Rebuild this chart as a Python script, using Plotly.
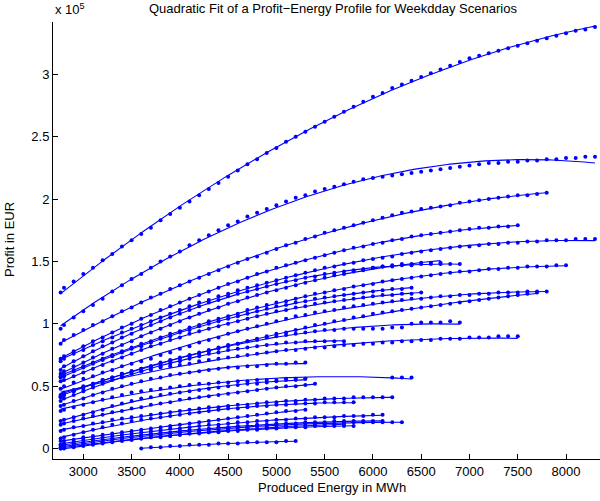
import numpy as np
import plotly.graph_objects as go

# Energy grid (MWh) of the scenario data points
ENERGY_MWH = [2765] + list(range(2800, 8301, 100))

# Profit values in thousand EUR, aligned with ENERGY_MWH (None = no point)
S01 = [125, 129, 134, 140, 145, 151, 156, 162, 167, 172, 177, 183, 188, 193, 198, 203, 208, 213, 218, 223, 228,
       232, 237, 241, 246, 250, 254, 258, 262, 266, 270, 274, 278, 282, 285, 289, 292, 295, 298, 301, 304,
       307, 310, 313, 315, 317, 319, 321, 323, 325, 327, 329, 331, 333, 335, 336, 338]
S02 = [96, 99, 105, 110, 115, 120, 126, 131, 136, 140, 145, 150, 154, 158, 163, 167, 171, 175, 179, 182, 186,
       189, 192, 195, 198, 201, 203, 206, 208, 210, 212, 214, 216, 217, 218, 219, 220, 221, 222, 223, 224,
       225, 226, 227, 228, 229, 229, 230, 230, 231, 231, 232, 232, 233, 233, 234, 234]
S03 = [84, 87, 91, 95, 99, 102, 106, 110, 113, 117, 121, 124, 128, 131, 134, 137, 140, 143, 146, 149, 152,
       154, 157, 160, 163, 165, 168, 170, 173, 175, 177, 179, 181, 183, 185, 187, 189, 190, 192, 193, 194,
       195, 197, 198, 199, 200, 201, 202, 203, 203, 204, 205]
S04 = [72, 74, 78, 82, 86, 89, 93, 97, 100, 104, 107, 111, 114, 117, 120, 123, 126, 129, 132, 134, 137,
       140, 142, 145, 147, 149, 151, 153, 155, 157, 159, 161, 162, 164, 165, 167, 168, 170, 171, 172, 173,
       174, 175, 176, 177, 177, 178, 178, 179]
S05 = [70, 72, 76, 79, 83, 86, 89, 93, 96, 99, 102, 105, 108, 111, 114, 117, 119, 122, 124, 127, 129,
       131, 133, 135, 137, 139, 141, 143, 145, 146, 148, 149, 151, 152, 153, 154, 156, 157, 158, 159, 160,
       161, 162, 162, 163, 164, 164, 165, 165, 166, 166, 167, 167, 167, 168, 168, 168]
S06 = [63, 66, 70, 74, 78, 82, 85, 89, 92, 96, 99, 102, 105, 108, 111, 114, 117, 119, 122, 124, 126,
       128, 130, 132, 134, 135, 137, 138, 140, 141, 142, 143, 144, 145, 146, 146, 147, 147, 148, 148, 148,
       148, 148]
S07 = [60, 62, 66, 69, 73, 76, 80, 83, 86, 90, 93, 96, 99, 102, 105, 108, 111, 113, 116, 118, 121,
       123, 125, 127, 129, 131, 133, 135, 137, 139, 140, 142, 143, 145, 146, 147, 148, 148, 149, 149, 149]
S08 = [58, 60, 63, 66, 69, 72, 75, 78, 81, 84, 86, 89, 92, 94, 97, 99, 102, 104, 106, 108, 111,
       113, 115, 117, 118, 120, 122, 124, 125, 127, 128, 130, 131, 132, 134, 135, 136, 137, 138, 139, 140,
       141, 142, 142, 143, 144, 144, 145, 145, 146, 146, 146, 147, 147]
S09 = [57, 58, 62, 65, 68, 71, 74, 77, 80, 82, 85, 88, 90, 93, 95, 98, 100, 102, 104, 106, 108,
       110, 112, 114, 115, 117, 118, 120, 121, 122, 123, 124, 125, 126, 127, 128, 128, 129]
S10 = [54, 55, 58, 61, 64, 67, 70, 73, 76, 79, 82, 84, 87, 89, 92, 94, 96, 98, 100, 102, 104,
       106, 108, 110, 111, 113, 114, 116, 117, 118, 119, 120, 121, 122, 123, 123, 124, 124, 125]
S11 = [48, 50, 53, 56, 58, 61, 63, 66, 68, 70, 72, 75, 77, 80, 82, 85, 87, 89, 92, 94, 96,
       98, 100, 102, 104, 106, 107, 109, 110, 111, 113, 114, 115, 116, 117, 118, 119, 120, 120, 121, 122,
       122, 123, 123, 124, 124, 125, 125, 125, 126, 126, 126]
S12 = [43, 45, 47, 50, 52, 55, 57, 60, 62, 64, 66, 68, 70, 72, 74, 76, 78, 80, 82, 84, 86,
       88, 90, 92, 93, 95, 97, 99, 100, 102, 103, 105, 106, 108, 109, 110, 111, 112, 113, 114, 115,
       116, 117, 118, 119, 120, 121, 122, 123, 124, 125]
S13 = [41, 43, 46, 49, 52, 55, 57, 60, 62, 64, 66, 69, 71, 73, 75, 77, 79, 81, 83, 84, 86,
       87, 89, 90, 91, 92, 93, 94, 95, 95, 96, 96, 96, 96, 96, 97, 97, 100, 101, 101, 101,
       102, 101]
S14 = [38, 40, 43, 46, 49, 52, 55, 57, 60, 62, 64, 66, 68, 70, 72, 74, 76, 77, 79, 80, 81,
       82, 83, 84, 85, 85, 86, 86, 86, 86, 86]
S15 = [42, 43, 46, 48, 51, 53, 56, 58, 60, 62, 63, 65, 66, 67, 68, 70, 71, 72, 73, 74, 75,
       76, 77, 78, 79, 79, 80, 81, 81, 82, 83, 83, 84, 84, 85, 85, 86, 86, 87, 87, 88,
       88, 88, 89, 89, 89, 90, 90, 90]
S16 = [34, 35, 38, 40, 43, 45, 48, 50, 52, 54, 56, 57, 59, 60, 61, 62, 63, 64, 65, 65, 66,
       66, 67, 68, 68, 69, 69]
S17 = [30, 31, 33, 35, 37, 39, 41, 43, 45, 46, 47, 48, 49, 50, 51, 52, 52, 53, 53, 54, 54,
       55, 55, 55, 56, 56, 56, None, None, None, None, None, None, None, None, 57, 57, 57]
S18 = [22, 23, 25, 27, 29, 31, 34, 36, 38, 40, 41, 43, 44, 45, 46, 47, 48, 49, 50, 51, 52,
       52, 53, 54, 55, 55, 56]
S19 = [19, 20, 22, 24, 26, 27, 29, 30, 32, 33, 35, 36, 37, 39, 40, 41, 42, 43, 44, 45, 46,
       47, 48, 49, 50, 50, 51, 52]
S20 = [14, 15, 17, 18, 20, 21, 23, 24, 25, 26, 27, 28, 29, 30, 31, 32, 33, 33, 34, 35, 35,
       36, 37, 37, 38, 38, 39, 39, 40, 40, 40, 41, 41, 41, 41, 41]
S21 = [8, 9, 11, 13, 15, 17, 19, 20, 22, 23, 24, 25, 26, 27, 28, 29, 30, 31, 32, 32, 33,
       34, 34, 35, 35, 36, 36, 36, 37, 37, 37, 37]
S22 = [6, 6, 7, 9, 10, 11, 12, 13, 14, 15, 16, 17, 18, 19, 20, 21, 22, 23, 24, 25, 26,
       27, 28, 29, 30, 30, 31]
S23 = [3, 4, 5, 7, 8, 9, 10, 11, 12, 13, 14, 15, 16, 16, 17, 18, 19, 19, 20, 21, 21,
       22, 22, 23, 23, 24, 24, 25, 25, 25, 26, 26, 26, 27, 27]
S24 = [3, 3, 4, 5, 6, 7, 8, 9, 10, 11, 12, 13, 13, 14, 15, 15, 16, 17, 17, 18, 18,
       19, 19, 20, 20, 20, 21, 21, 21, 22, 22, 22, 22, 22, 22]
S25 = [1, 2, 3, 4, 5, 6, 7, 8, 9, 10, 11, 11, 12, 13, 14, 14, 15, 16, 16, 17, 17,
       18, 18, 19, 19, 19, 20, 20, 20, 20, 21, 21, 21, 21, 21, 21, 21]
S26 = [0, 1, 2, 3, 4, 5, 6, 7, 7, 8, 9, 10, 10, 11, 12, 12, 13, 13, 14, 14, 15,
       15, 16, 16, 17, 17, 17, 18, 18, 18, 18, 18]
S27 = [0, 0, 1, 2, 3, 4, 5, 6, 7, 8, 9, 9, 10, 11, 12, 13, 13, 14, 15, 15, 16,
       16, 17, 17, 18, 18, 18, 19, 19, 19, 19]
S28 = [None, None, None, None, None, None, None, None, None, 0, 1, 1, 2, 2, 3, 3, 3, 4, 4, 4, 5,
       5, 5, 5, 6, 6]

SCENARIOS = [S01, S02, S03, S04, S05, S06, S07, S08, S09, S10, S11, S12, S13, S14,
             S15, S16, S17, S18, S19, S20, S21, S22, S23, S24, S25, S26, S27, S28]

Y_TICKS = [0, 50000, 100000, 150000, 200000, 250000, 300000]
Y_TICK_TEXT = ["0", "0.5", "1", "1.5", "2", "2.5", "3"]
X_TICKS = [3000, 3500, 4000, 4500, 5000, 5500, 6000, 6500, 7000, 7500, 8000]

BLUE = "rgb(0,0,255)"
FONT = "Liberation Sans, Arial, Helvetica, sans-serif"

fig = go.Figure()
for s in SCENARIOS:
    pts = [(x, v * 1000.0) for x, v in zip(ENERGY_MWH, s) if v is not None]
    xs = np.array([p[0] for p in pts], dtype=float)
    ys = np.array([p[1] for p in pts], dtype=float)
    coef = np.polyfit(xs, ys, 2)
    xf = np.linspace(xs.min(), xs.max(), 200)
    yf = np.polyval(coef, xf)
    fig.add_trace(go.Scatter(x=xf, y=yf, mode="lines",
                             line=dict(color=BLUE, width=1.1), hoverinfo="skip"))
    fig.add_trace(go.Scatter(x=xs, y=ys, mode="markers",
                             marker=dict(color=BLUE, size=4, line=dict(width=0))))

fig.update_layout(
    width=600, height=501,
    margin=dict(l=53, r=0, t=22, b=42),
    paper_bgcolor="white", plot_bgcolor="white",
    showlegend=False,
    font=dict(family=FONT, size=13, color="black"),
    xaxis=dict(range=[2686, 8352], tickvals=X_TICKS, ticks="inside", ticklen=5,
               tickcolor="black", showline=True, linecolor="black", linewidth=1,
               showgrid=False, zeroline=False, mirror=False,
               tickfont=dict(family=FONT, size=13, color="black")),
    yaxis=dict(range=[-8420, 342020], tickvals=Y_TICKS, ticktext=Y_TICK_TEXT,
               ticks="inside", ticklen=5, tickcolor="black", showline=True,
               linecolor="black", linewidth=1, showgrid=False, zeroline=False,
               mirror=False, tickfont=dict(family=FONT, size=13, color="black")),
    annotations=[
        dict(text="Quadratic Fit of a Profit\u2212Energy Profile for Weekdday Scenarios",
             xref="paper", yref="paper", x=(333 - 53) / 547, y=1 + (22 - 8) / 437,
             xanchor="center", yanchor="middle", showarrow=False,
             font=dict(family=FONT, size=13, color="black")),
        dict(text="Produced Energy in MWh", xref="paper", yref="paper",
             x=(332 - 53) / 547, y=-(488 - 459) / 437, xanchor="center", yanchor="middle",
             showarrow=False, font=dict(family=FONT, size=13, color="black")),
        dict(text="Profit in EUR", xref="paper", yref="paper", textangle=-90,
             x=(10 - 53) / 547, y=(459 - 240) / 437, xanchor="center", yanchor="middle",
             showarrow=False, font=dict(family=FONT, size=13, color="black")),
        dict(text="x 10<sup>5</sup>", xref="paper", yref="paper", x=0, y=1 + (22 - 9) / 437,
             xanchor="left", yanchor="middle", showarrow=False,
             font=dict(family=FONT, size=13, color="black")),
    ],
)

fig.write_html("out.html")
